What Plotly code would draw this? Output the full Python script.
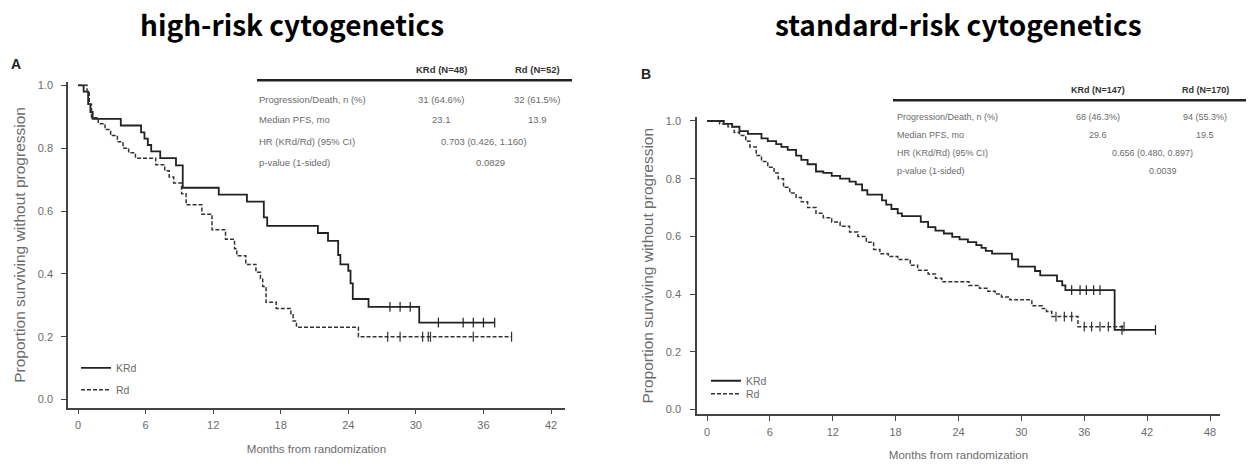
import plotly.graph_objects as go

W, H = 1250, 469
OFF = 0  # body margin removed by post_script

# ---------------- data: panel A (high-risk) ----------------
a_krd_t = [0, 0.5, 0.9, 1.1, 1.3, 3.8, 5.6, 5.9, 6.2, 6.5, 7.3, 8.7, 9.3, 12.5, 15.0, 16.5, 16.8,
           21.3, 22.2, 23.1, 23.3, 24.0, 24.2, 24.4, 25.8, 30.3, 37.0]
a_krd_s = [1.0, 0.98, 0.94, 0.915, 0.893, 0.872, 0.85, 0.83, 0.81, 0.79, 0.768, 0.745, 0.674, 0.652,
           0.63, 0.58, 0.553, 0.53, 0.505, 0.46, 0.43, 0.41, 0.37, 0.32, 0.295, 0.245, 0.245]
a_krd_cens_t = [27.7, 28.6, 29.5, 32.0, 34.2, 35.1, 36.0, 37.0]
a_krd_cens_s = [0.295, 0.295, 0.295, 0.245, 0.245, 0.245, 0.245, 0.245]

a_rd_t = [0, 0.8, 1.0, 1.2, 1.8, 2.4, 2.9, 3.5, 4.0, 4.5, 5.1, 6.9, 7.7, 8.1, 8.5, 9.2, 9.6, 11.0,
          11.9, 13.1, 13.9, 14.1, 14.9, 15.8, 16.2, 16.4, 16.7, 17.6, 18.9, 19.1, 19.4, 24.9, 38.5]
a_rd_s = [1.0, 0.98, 0.94, 0.897, 0.878, 0.859, 0.84, 0.82, 0.80, 0.785, 0.768, 0.747, 0.728, 0.708,
          0.689, 0.655, 0.62, 0.59, 0.54, 0.51, 0.48, 0.458, 0.43, 0.405, 0.385, 0.36, 0.31, 0.29,
          0.27, 0.25, 0.23, 0.2, 0.2]
a_rd_cens_t = [27.5, 28.6, 30.6, 31.1, 31.3, 35.1, 38.5]
a_rd_cens_s = [0.2, 0.2, 0.2, 0.2, 0.2, 0.2, 0.2]

# ---------------- data: panel B (standard-risk) ----------------
b_krd_t = [0, 1.6, 2.4, 3.1, 3.9, 5.2, 5.8, 6.6, 7.1, 7.7, 8.5, 9.0, 9.6, 10.4, 11.1, 11.9, 12.7,
           13.6, 14.2, 14.8, 15.3, 16.7, 17.1, 17.6, 18.2, 18.6, 20.4, 21.1, 21.8, 22.6, 23.4, 24.1,
           24.9, 25.7, 26.2, 26.6, 27.2, 29.1, 29.7, 31.3, 31.8, 33.4, 33.9, 34.2, 38.9, 42.8]
b_krd_s = [1.0, 0.99, 0.98, 0.965, 0.955, 0.94, 0.93, 0.92, 0.91, 0.90, 0.88, 0.865, 0.85, 0.825,
           0.82, 0.81, 0.80, 0.79, 0.78, 0.76, 0.745, 0.725, 0.71, 0.695, 0.68, 0.67, 0.65, 0.632,
           0.62, 0.61, 0.598, 0.59, 0.58, 0.57, 0.56, 0.55, 0.54, 0.52, 0.495, 0.48, 0.465, 0.445,
           0.43, 0.414, 0.276, 0.276]
b_krd_cens_t = [34.8, 35.6, 36.2, 36.9, 37.5, 39.6, 42.8]
b_krd_cens_s = [0.414, 0.414, 0.414, 0.414, 0.414, 0.276, 0.276]

b_rd_t = [0, 1.2, 2.0, 2.6, 3.1, 3.7, 4.1, 4.7, 5.2, 5.8, 6.4, 6.8, 7.3, 7.9, 8.5, 9.0, 9.6, 10.4,
          11.1, 11.9, 12.7, 13.6, 14.4, 15.2, 15.9, 16.5, 17.3, 18.2, 19.4, 20.1, 21.1, 21.8, 22.4,
          25.0, 26.0, 26.8, 27.5, 28.1, 28.9, 31.0, 32.0, 32.4, 32.9, 35.4, 39.8]
b_rd_s = [1.0, 0.99, 0.98, 0.96, 0.95, 0.93, 0.91, 0.88, 0.86, 0.84, 0.82, 0.80, 0.77, 0.75, 0.735,
          0.72, 0.70, 0.68, 0.665, 0.65, 0.635, 0.615, 0.60, 0.58, 0.555, 0.54, 0.53, 0.52, 0.50,
          0.483, 0.47, 0.455, 0.443, 0.43, 0.42, 0.41, 0.40, 0.39, 0.38, 0.36, 0.35, 0.34, 0.322,
          0.287, 0.287]
b_rd_cens_t = [33.3, 34.1, 34.8, 36.0, 36.7, 37.5, 38.3, 39.8]
b_rd_cens_s = [0.322, 0.322, 0.322, 0.287, 0.287, 0.287, 0.287, 0.287]

titles = ["high-risk cytogenetics", "standard-risk cytogenetics"]
panel_letters = ["A", "B"]
a_x_ticks = [0, 6, 12, 18, 24, 30, 36, 42]
b_x_ticks = [0, 6, 12, 18, 24, 30, 36, 42, 48]
y_ticks = [0.0, 0.2, 0.4, 0.6, 0.8, 1.0]
y_tick_labels = ["0.0", "0.2", "0.4", "0.6", "0.8", "1.0"]

row_labels = ["Progression/Death, n (%)", "Median PFS, mo", "HR (KRd/Rd) (95% CI)", "p-value (1-sided)"]
a_headers = ["KRd (N=48)", "Rd (N=52)"]
a_col1 = ["31 (64.6%)", "23.1"]
a_col2 = ["32 (61.5%)", "13.9"]
a_hr = "0.703 (0.426, 1.160)"
a_p = "0.0829"
b_headers = ["KRd (N=147)", "Rd (N=170)"]
b_col1 = ["68 (46.3%)", "29.6"]
b_col2 = ["94 (55.3%)", "19.5"]
b_hr = "0.656 (0.480, 0.897)"
b_p = "0.0039"

# ---------------- layout helpers ----------------
def px(x):
    return (x - OFF) / W

def py(y):
    return 1 - (y - OFF) / H

FONT = "Liberation Sans, Arial, sans-serif"
GREY = "#6b6b6b"
LINE = "#222222"

fig = go.Figure()

def add_panel(xa, ya, leg_k, leg_r, krd_t, krd_s, kc_t, kc_s, rd_t, rd_s, rc_t, rc_s):
    fig.add_trace(go.Scatter(x=krd_t, y=krd_s, mode="lines", line=dict(color=LINE, width=1.8, shape="hv"),
                             name="KRd", xaxis=xa, yaxis=ya, legend=leg_k))
    fig.add_trace(go.Scatter(x=rd_t, y=rd_s, mode="lines",
                             line=dict(color="#333333", width=1.5, shape="hv", dash="4px,2px"),
                             name="Rd", xaxis=xa, yaxis=ya, legend=leg_r))
    fig.add_trace(go.Scatter(x=kc_t, y=kc_s, mode="markers", showlegend=False, xaxis=xa, yaxis=ya,
                             marker=dict(symbol="line-ns", size=7, line=dict(color=LINE, width=1.2))))
    fig.add_trace(go.Scatter(x=rc_t, y=rc_s, mode="markers", showlegend=False, xaxis=xa, yaxis=ya,
                             marker=dict(symbol="line-ns", size=7, line=dict(color="#333333", width=1.2))))

add_panel("x", "y", "legend", "legend2", a_krd_t, a_krd_s, a_krd_cens_t, a_krd_cens_s,
          a_rd_t, a_rd_s, a_rd_cens_t, a_rd_cens_s)
add_panel("x2", "y2", "legend3", "legend4", b_krd_t, b_krd_s, b_krd_cens_t, b_krd_cens_s,
          b_rd_t, b_rd_s, b_rd_cens_t, b_rd_cens_s)

axis_common = dict(showline=True, linecolor="#444444", linewidth=1.5, ticks="outside", ticklen=5,
                   tickwidth=1, tickcolor="#444444", showgrid=False, zeroline=False,
                   tickfont=dict(family=FONT, size=11, color=GREY))

# panel A geometry (pixels in the reference)
a_l, a_r, a_b, a_t = 68, 565, 408, 80
a_x0, a_x42 = 78, 551
a_ppm = (a_x42 - a_x0) / 42
a_y1, a_y0 = 83, 400
a_ppu = a_y0 - a_y1
# panel B geometry
b_l, b_r, b_b, b_t = 697, 1220, 415, 115
b_x0, b_x48 = 707, 1210
b_ppm = (b_x48 - b_x0) / 48
b_y1, b_y0 = 119, 410
b_ppu = b_y0 - b_y1

xt_font = dict(family=FONT, size=11.5, color=GREY)
yt_font = dict(family=FONT, size=15.5, color=GREY)

def leg(x, y):
    return dict(x=px(x), y=py(y), xanchor="left", yanchor="middle", bgcolor="rgba(0,0,0,0)",
                font=dict(family=FONT, size=10.5, color=GREY), tracegroupgap=0, itemwidth=30,
                borderwidth=0)

fig.update_layout(
    width=W, height=H, margin=dict(l=0, r=0, t=0, b=0),
    paper_bgcolor="white", plot_bgcolor="white", showlegend=True,
    xaxis=dict(axis_common, domain=[px(a_l), px(a_r)],
               range=[-(a_x0 - a_l) / a_ppm, 42 + (a_r - a_x42) / a_ppm],
               tickvals=a_x_ticks, anchor="y", ticklabelstandoff=2,
               title=dict(text="Months from randomization", font=xt_font, standoff=14)),
    yaxis=dict(axis_common, domain=[py(a_b), py(a_t)],
               range=[-(a_b - a_y0) / a_ppu, 1 + (a_y1 - a_t) / a_ppu],
               tickvals=y_ticks, ticktext=y_tick_labels, anchor="x", ticklabelstandoff=6,
               title=dict(text="Proportion surviving without progression", font=yt_font, standoff=8)),
    xaxis2=dict(axis_common, domain=[px(b_l), px(b_r)],
                range=[-(b_x0 - b_l) / b_ppm, 48 + (b_r - b_x48) / b_ppm],
                tickvals=b_x_ticks, anchor="y2", ticklabelstandoff=2,
                title=dict(text="Months from randomization", font=xt_font, standoff=14)),
    yaxis2=dict(axis_common, domain=[py(b_b), py(b_t)],
                range=[-(b_b - b_y0) / b_ppu, 1 + (b_y1 - b_t) / b_ppu],
                tickvals=y_ticks, ticktext=y_tick_labels, anchor="x2", ticklabelstandoff=7,
                title=dict(text="Proportion surviving without progression", font=yt_font, standoff=8)),
    legend=leg(76, 368),
    legend2=leg(76, 390),
    legend3=leg(706, 381),
    legend4=leg(706, 394),
)

def a(text, x, y, font, xanchor="center"):
    return dict(text=text, x=px(x), y=py(y), xref="paper", yref="paper", xanchor=xanchor,
                yanchor="middle", showarrow=False, font=font)

ann = []
tfont = dict(family="Noto Sans CJK KR", size=28, color="black")
ann.append(a("<b>" + titles[0] + "</b>", 292, 21, tfont))
ann.append(a("<b>" + titles[1] + "</b>", 958, 21, tfont))
lfont = dict(family="Liberation Sans", size=14, color="#222")
ann.append(a("<b>" + panel_letters[0] + "</b>", 16, 62, lfont))
ann.append(a("<b>" + panel_letters[1] + "</b>", 646, 72, lfont))

def table(lab_x, hdr_y, line_y, rows_y, c1x, c2x, hrx, pxp, headers, col1, col2, hr, p,
          line_x0, line_x1, fs):
    shapes = [dict(type="line", xref="paper", yref="paper", x0=px(line_x0), x1=px(line_x1),
                   y0=py(line_y), y1=py(line_y), line=dict(color="#222", width=2.5))]
    tf = dict(family=FONT, size=fs, color=GREY)
    hf = dict(family=FONT, size=fs, color="#333")
    out = [a("<b>" + headers[0] + "</b>", c1x, hdr_y, hf), a("<b>" + headers[1] + "</b>", c2x, hdr_y, hf)]
    for lbl, yy in zip(row_labels, rows_y):
        out.append(a(lbl, lab_x, yy, tf, xanchor="left"))
    for i in range(2):
        out.append(a(col1[i], c1x, rows_y[i], tf))
        out.append(a(col2[i], c2x, rows_y[i], tf))
    out.append(a(hr, hrx, rows_y[2], tf))
    out.append(a(p, pxp, rows_y[3], tf))
    return out, shapes

t1, s1 = table(257, 67, 78, [97, 118, 140, 161], 441, 537, 484, 490, a_headers, a_col1, a_col2, a_hr, a_p,
               257, 572, 9.5)
t2, s2 = table(895, 88, 98, [115, 133, 151, 169], 1098, 1205, 1152, 1163, b_headers, b_col1, b_col2,
               b_hr, b_p, 893, 1246, 9)
ann += t1 + t2
fig.update_layout(annotations=ann, shapes=s1 + s2)

fig.write_html("out.html", config={"displayModeBar": False},
               post_script="document.body.style.margin='0';document.body.style.overflow='hidden';")
